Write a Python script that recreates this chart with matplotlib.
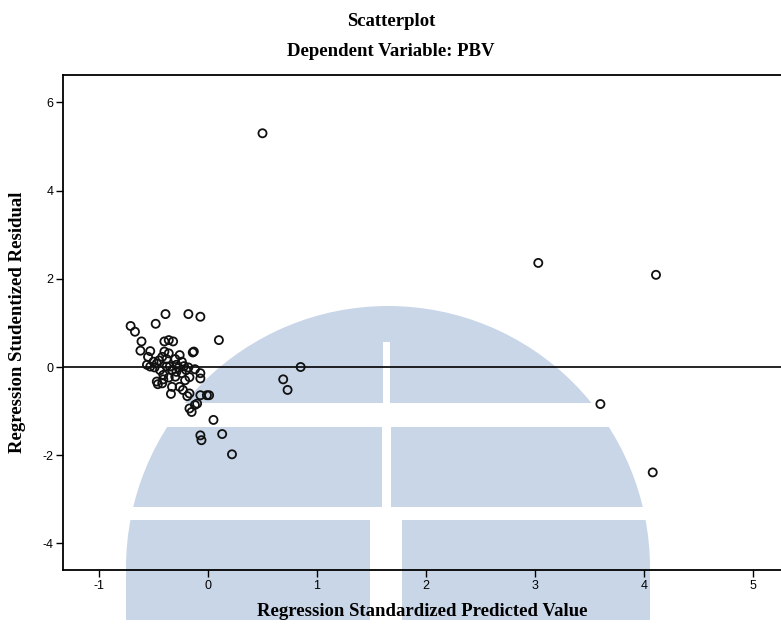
import matplotlib
matplotlib.use("Agg")
import matplotlib.pyplot as plt
import matplotlib.patches as mpatches
from matplotlib.transforms import Affine2D

# ---- data ----
pred = [0.50, 3.03, 4.11, 3.60, 4.08, 0.85, 0.69, 0.73, 0.10, -0.18, -0.07, -0.13,
        -0.07, -0.17, -0.07, -0.01, -0.10, -0.17, -0.15, 0.05, -0.07, -0.06, 0.13, 0.22,
        -0.71, -0.67, -0.39, -0.48, -0.61, -0.62, -0.53, -0.40, -0.36, -0.32, -0.40,
        -0.55, -0.50, -0.47, -0.42, -0.36, -0.26, -0.24, -0.14, -0.53, -0.49, -0.44,
        -0.38, -0.33, -0.29, -0.20, -0.41, -0.30, -0.17, -0.07, -0.46, -0.41, -0.33,
        -0.26, -0.23, -0.34, -0.19, 0.01, -0.47, -0.42, -0.24, -0.21, -0.35, -0.29,
        -0.45, -0.38, -0.30, -0.27, -0.22, -0.18, -0.12, -0.56, -0.36, -0.12]
resid = [5.30, 2.36, 2.09, -0.84, -2.39, 0.00, -0.28, -0.52, 0.61, 1.20, 1.14, 0.35,
         -0.14, -0.60, -0.64, -0.64, -0.83, -0.94, -1.02, -1.20, -1.55, -1.66, -1.52, -1.98,
         0.93, 0.80, 1.20, 0.98, 0.58, 0.37, 0.36, 0.58, 0.61, 0.58, 0.35,
         0.23, 0.12, 0.08, 0.23, 0.31, 0.27, 0.12, 0.33, 0.01, -0.01, -0.07,
         0.01, -0.07, -0.11, -0.07, -0.18, -0.22, -0.23, -0.26, -0.39, -0.28, -0.45,
         -0.45, -0.52, -0.61, -0.66, -0.64, -0.33, -0.37, -0.14, -0.30, 0.01, 0.05,
         0.15, 0.18, 0.18, -0.02, 0.02, -0.01, -0.05, 0.05, -0.24, -0.86]
x_ticks = [-1, 0, 1, 2, 3, 4, 5]
y_ticks = [-4, -2, 0, 2, 4, 6]

title1 = "Scatterplot"
title2 = "Dependent Variable: PBV"
xlabel = "Regression Standardized Predicted Value"
ylabel = "Regression Studentized Residual"

W, H = 781, 625
fig = plt.figure(figsize=(W / 100, H / 100), dpi=100)
fig.patch.set_facecolor("white")

ax_l, ax_r, ax_t, ax_b = 63, 790, 75, 570
ax = fig.add_axes([ax_l / W, 1 - ax_b / H, (ax_r - ax_l) / W, (ax_b - ax_t) / H])

x0, xs = 208.0, 109.0
y0, ys = 367.0, 44.1
ax.set_xlim((ax_l - x0) / xs, (ax_r - x0) / xs)
ax.set_ylim((y0 - ax_b) / ys, (y0 - ax_t) / ys)

# watermark (figure pixel coordinates, y measured from top)
pix = Affine2D().scale(1, -1).translate(0, H)
wm_col = "#c9d6e8"
cx, cy, r = 388, 568, 262
ax.add_artist(mpatches.Circle((cx, cy), r, transform=pix, facecolor=wm_col,
                              edgecolor="none", zorder=0.5, clip_on=False))
ax.add_artist(mpatches.Rectangle((cx - r, cy), 2 * r, 52, transform=pix, facecolor=wm_col,
                                 edgecolor="none", zorder=0.5, clip_on=False))
gaps = [
    (cx - r - 5, 620, 2 * r + 10, 40),
    (cx - r - 5, 403, 2 * r + 10, 24),
    (cx - r - 5, 507, 2 * r + 10, 13),
    (383, 342, 7, 61),
    (382, 427, 9, 80),
    (370, 520, 32, 100),
]
for gx, gy, gw, gh in gaps:
    ax.add_artist(mpatches.Rectangle((gx, gy), gw, gh, transform=pix,
                                     facecolor="white", edgecolor="none",
                                     zorder=0.6, clip_on=False))

ax.axhline(0, color="black", lw=1.2, zorder=2)
ax.scatter(pred, resid, s=34, facecolors="none", edgecolors="#111111",
           linewidths=1.3, zorder=3)

ax.spines["right"].set_visible(False)
for s in ["left", "bottom", "top"]:
    ax.spines[s].set_linewidth(1.3)
    ax.spines[s].set_color("black")

ax.set_xticks(x_ticks)
ax.set_yticks(y_ticks)
ax.set_xticklabels([str(v) for v in x_ticks], family="Liberation Sans", fontsize=9)
ax.set_yticklabels([str(v) for v in y_ticks], family="Liberation Sans", fontsize=9)
ax.tick_params(direction="out", length=5, width=1, pad=2, colors="black")

fs = 13.5
fig.text(391 / W, 1 - 22 / H, title1, ha="center", va="center",
         family="Liberation Serif", fontweight="bold", fontsize=fs)
fig.text(391 / W, 1 - 51 / H, title2, ha="center", va="center",
         family="Liberation Serif", fontweight="bold", fontsize=fs)
fig.text(257 / W, 1 - 611 / H, xlabel, ha="left", va="center",
         family="Liberation Serif", fontweight="bold", fontsize=fs)
fig.text(18 / W, 1 - 322 / H, ylabel, ha="center", va="center", rotation=90,
         family="Liberation Serif", fontweight="bold", fontsize=fs)

fig.savefig("out.png", dpi=100, facecolor="white")
